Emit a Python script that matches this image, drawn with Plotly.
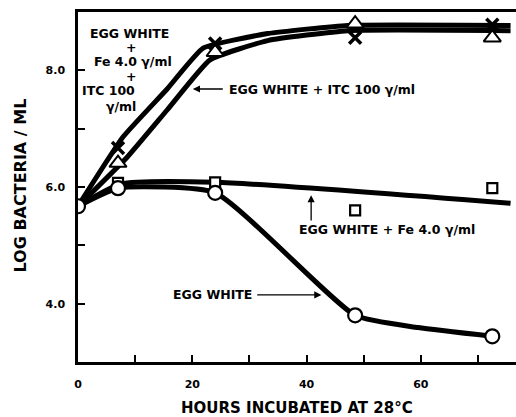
import plotly.graph_objects as go

# Measured data (hours, log bacteria / ml)
hours = [0, 7, 24, 48.5, 72.5]
egg_white = [5.67, 5.98, 5.9, 3.8, 3.44]
egg_white_fe = [5.67, 6.07, 6.08, 5.6, 5.98]
egg_white_itc = [5.67, 6.41, 8.31, 8.8, 8.56]
egg_white_fe_itc = [5.67, 6.67, 8.46, 8.56, 8.78]

# Hand-drawn fitted curves
ew_line_x = [0, 7, 24, 48.5, 59.5, 72.5]
ew_line_y = [5.67, 5.98, 5.9, 3.8, 3.59, 3.44]
fe_line_x = [0, 7.5, 24, 75.7]
fe_line_y = [5.67, 6.05, 6.08, 5.72]
itc_line_x = [0, 8.6, 15.6, 23.1, 33.2, 47.2, 75.7]
itc_line_y = [5.67, 6.51, 7.32, 8.18, 8.51, 8.68, 8.68]
feitc_line_x = [0, 7.9, 15.6, 21.9, 33.2, 47.2, 75.7]
feitc_line_y = [5.67, 6.86, 7.68, 8.38, 8.63, 8.77, 8.77]

x_ticks = [0, 10, 20, 30, 40, 50, 60, 70]
x_ticklabels = ["0", "", "20", "", "40", "", "60", ""]
y_ticks = [3, 4, 5, 6, 7, 8]
y_ticklabels = ["", "4.0", "", "6.0", "", "8.0"]

FONT = "DejaVu Sans"
fig = go.Figure()

for lx, ly in [(feitc_line_x, feitc_line_y), (itc_line_x, itc_line_y)]:
    fig.add_trace(go.Scatter(x=lx, y=ly, mode="lines", line=dict(color="black", width=5, shape="spline", smoothing=0.4),
                             hoverinfo="skip", showlegend=False))
fig.add_trace(go.Scatter(x=fe_line_x, y=fe_line_y, mode="lines",
                         line=dict(color="black", width=5, shape="spline", smoothing=0.6), showlegend=False))
fig.add_trace(go.Scatter(x=ew_line_x, y=ew_line_y, mode="lines",
                         line=dict(color="black", width=5, shape="spline", smoothing=0.5), showlegend=False))

fig.add_trace(go.Scatter(x=hours[1:], y=egg_white_fe[1:], mode="markers",
                         marker=dict(symbol="square", size=10, color="white", line=dict(color="black", width=2.2)),
                         showlegend=False))
fig.add_trace(go.Scatter(x=hours, y=egg_white, mode="markers",
                         marker=dict(symbol="circle", size=14, color="white", line=dict(color="black", width=2.2)),
                         showlegend=False))
fig.add_trace(go.Scatter(x=hours[1:], y=egg_white_itc[1:], mode="markers",
                         marker=dict(symbol="triangle-up", size=15, color="white", line=dict(color="black", width=2)),
                         showlegend=False))
fig.add_trace(go.Scatter(x=hours[1:], y=egg_white_fe_itc[1:], mode="markers",
                         marker=dict(symbol="x-thin", size=12, color="black", line=dict(color="black", width=3.5)),
                         showlegend=False))

tf = dict(family=FONT, size=12.5, color="black")
ann = []
# top-left stacked label
for txt, cx, cy in [("<b>EGG WHITE</b>", 129, 34), ("<b>+</b>", 131, 48), ("<b>Fe 4.0 γ/ml</b>", 133, 62),
                    ("<b>+</b>", 131, 77), ("<b>ITC 100</b>", 108, 91), ("<b>γ/ml</b>", 121, 107)]:
    ann.append(dict(x=(cx - 78) / 5.714, y=6 - (cy - 187) / 58.3, xref="x", yref="y", text=txt,
                    showarrow=False, font=tf, xanchor="center", yanchor="middle"))
ann.append(dict(x=26.0, y=7.68, xref="x", yref="y", text="<b>EGG WHITE + ITC 100 γ/ml</b>",
                showarrow=False, font=tf, xanchor="left", yanchor="middle"))
ann.append(dict(x=38.3, y=5.265, xref="x", yref="y", text="<b>EGG WHITE + Fe 4.0 γ/ml</b>",
                showarrow=False, font=tf, xanchor="left", yanchor="middle"))
ann.append(dict(x=16.3, y=4.15, xref="x", yref="y", text="<b>EGG WHITE</b>",
                showarrow=False, font=tf, xanchor="left", yanchor="middle"))
# arrows
for (tx, ty, hx, hy) in [(25.6, 7.68, 20.1, 7.68), (40.8, 5.40, 40.8, 5.86), (31.1, 4.15, 42.6, 4.15)]:
    ann.append(dict(x=hx, y=hy, ax=tx, ay=ty, xref="x", yref="y", axref="x", ayref="y", text="",
                    showarrow=True, arrowhead=2, arrowsize=1.1, arrowwidth=1.3, arrowcolor="black"))
# axis titles
ann.append(dict(x=(297 - 78) / 438, y=-(408 - 362) / 350, xref="paper", yref="paper",
                text="<b>HOURS INCUBATED AT 28°C</b>", showarrow=False, xanchor="center", yanchor="middle",
                font=dict(family=FONT, size=15, color="black")))
ann.append(dict(x=-(78 - 20) / 438, y=(362 - 185.5) / 350, xref="paper", yref="paper",
                text="<b>LOG BACTERIA / ML</b>", textangle=-90, showarrow=False,
                font=dict(family=FONT, size=16, color="black"), xanchor="center", yanchor="middle"))

fig.update_layout(
    annotations=ann,
    width=516, height=417,
    margin=dict(l=78, r=0, t=12, b=55),
    plot_bgcolor="white", paper_bgcolor="white",
    xaxis=dict(range=[0, 76.65], tickvals=x_ticks, ticktext=["<b>%s</b>" % t if t else "" for t in x_ticklabels],
               ticks="inside", ticklen=7,
               tickwidth=2, tickcolor="black", showline=True, linecolor="black", linewidth=2.5, mirror=True,
               showgrid=False, zeroline=False, ticklabelstandoff=10,
               tickfont=dict(family=FONT, size=11, color="black")),
    yaxis=dict(range=[3, 9], tickvals=y_ticks, ticktext=["<b>%s</b>" % t if t else "" for t in y_ticklabels],
               ticks="inside", ticklen=7,
               tickwidth=2, tickcolor="black", showline=True, linecolor="black", linewidth=2.5,
               showgrid=False, zeroline=False, ticklabelstandoff=8,
               tickfont=dict(family=FONT, size=11, color="black")),
    font=dict(family=FONT, color="black"),
)

fig.write_html("out.html", config={"displayModeBar": False},
               post_script="document.body.style.margin='0';document.body.style.overflow='hidden';")
